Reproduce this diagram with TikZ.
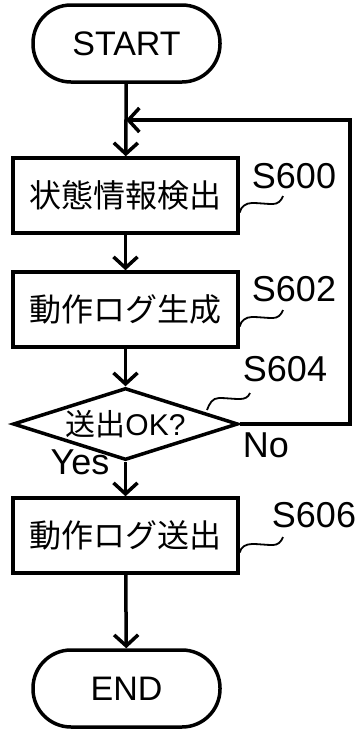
\documentclass[tikz,border=0pt]{standalone}
\usepackage{fontspec}
\setmainfont{Liberation Sans}
\newfontfamily\jpfont{Noto Sans CJK JP}
\usetikzlibrary{arrows.meta,shapes.geometric}

\begin{document}
\begin{tikzpicture}
        [x=1pt,y=1pt,every path/.style={line width=3.5pt, black},
        terminal/.style={draw,rectangle,rounded corners=38pt,minimum width=187pt,minimum height=77pt,inner sep=0,font=\fontsize{34}{34}\selectfont},
        stepbox/.style={draw,rectangle,minimum width=225pt,minimum height=75pt,inner sep=0,font=\jpfont\fontsize{32}{32}\selectfont},
        decision/.style={draw,diamond,aspect=3.125,minimum width=225pt,minimum height=72pt,inner sep=0,font=\fontsize{30}{30}\selectfont},
        steplabel/.style={inner sep=0,font=\fontsize{36}{36}\selectfont},
        flow/.style={-{Straight Barb[length=11pt,width=24pt]}},
        leader/.style={line width=1.8pt}]

        \useasboundingbox (0,0) rectangle (357,-729);

        \node[terminal] (start) at (126.5, -43.5) {START};
        \node[stepbox] (detect) at (125.5, -195.5) {状態情報検出};
        \node[stepbox] (genlog) at (125.5, -309.5) {動作ログ生成};
        \node[decision] (sendok) at (125.5, -424) {{\jpfont 送出}OK?};
        \node[stepbox] (sendlog) at (125.5, -535.5) {動作ログ送出};
        \node[terminal] (finish) at (126.5, -688.5) {END};

        \node[steplabel] (s600) at (294, -176) {S600};
        \node[steplabel] (s602) at (294, -289) {S602};
        \node[steplabel] (s604) at (285, -369) {S604};
        \node[steplabel] (s606) at (314, -515) {S606};
        \node[steplabel] (no) at (266, -445) {No};
        \node[steplabel] (yes) at (80, -462) {Yes};

        \coordinate (loopa) at (350, -424);
        \coordinate (loopb) at (350, -120);
        \coordinate (join) at (126, -120);

        \draw[flow] (start) -- (detect);
        \draw[flow] (detect) -- (genlog);
        \draw[flow] (genlog) -- (sendok);
        \draw[flow] (sendok) -- (sendlog);
        \draw[flow] (sendlog) -- (finish);
        \draw[flow] (sendok.east) -- (loopa) -- (loopb) -- (join);

        \coordinate (t600) at (283, -196);
        \coordinate (t602) at (283, -310);
        \coordinate (t604) at (250, -393);
        \coordinate (t606) at (283, -537);

        \draw[leader] ([yshift=-17pt]detect.east) to[out=80,in=180] (252,-203) to[out=0,in=180] (273,-204) to[out=0,in=-110] (t600);
        \draw[leader] ([yshift=-17pt]genlog.east) to[out=80,in=180] (252,-317) to[out=0,in=180] (273,-318) to[out=0,in=-110] (t602);
        \draw[leader] (207,-410) to[out=70,in=180] (219,-398) to[out=0,in=180] (240,-399) to[out=0,in=-110] (t604);
        \draw[leader] ([yshift=-17pt]sendlog.east) to[out=80,in=180] (252,-544) to[out=0,in=180] (273,-545) to[out=0,in=-110] (t606);

      \end{tikzpicture}
\end{document}
